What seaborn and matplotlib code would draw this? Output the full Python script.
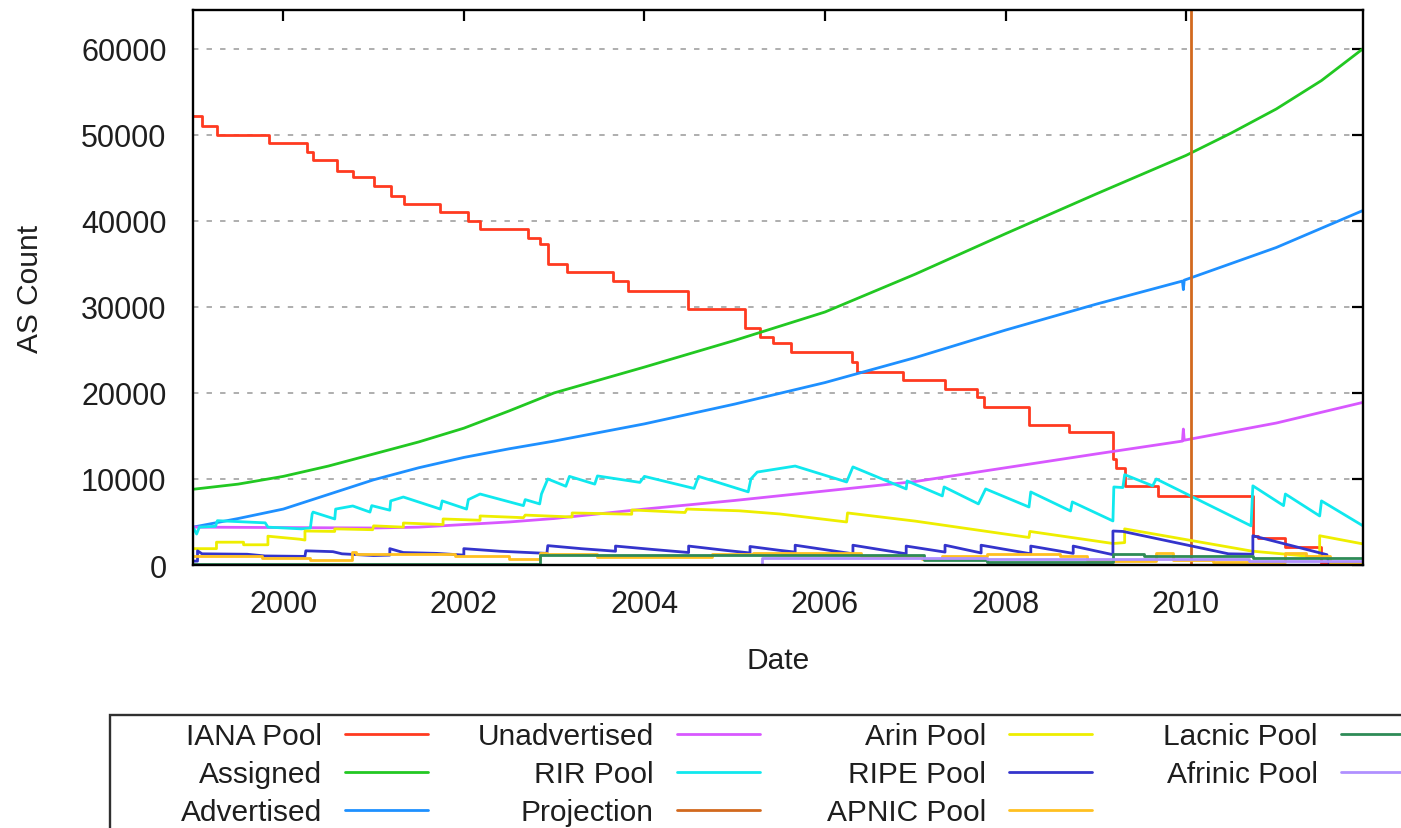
import matplotlib
matplotlib.use("Agg")
import matplotlib.pyplot as plt
import seaborn as sns
from matplotlib.patches import Rectangle

# ---------------- data (decimal years, AS counts) ----------------
iana_years = [1999.00, 1999.10, 1999.27, 1999.84, 2000.26, 2000.33, 2000.60, 2000.77, 2001.00, 2001.19,
              2001.34, 2001.74, 2002.05, 2002.18, 2002.71, 2002.84, 2002.93, 2003.14, 2003.65, 2003.82,
              2004.48, 2005.12, 2005.28, 2005.42, 2005.62, 2006.30, 2006.36, 2006.86, 2007.33, 2007.68,
              2007.76, 2008.26, 2008.70, 2009.19, 2009.22, 2009.32, 2009.69, 2010.74, 2010.80, 2011.10,
              2011.50, 2011.96]
iana_values = [52200, 51060, 50000, 49080, 48030, 47100, 45800, 45100, 44100, 42900,
               42000, 41000, 40000, 39000, 38000, 37300, 35000, 34000, 33000, 31900,
               29700, 27500, 26500, 25800, 24700, 23600, 22400, 21500, 20500, 19500,
               18400, 16300, 15500, 12300, 11300, 9200, 8000, 3400, 3100, 2100,
               200, 200]

assigned_years = [1999.0, 1999.5, 2000.0, 2000.5, 2001.0, 2001.5, 2002.0, 2002.5, 2003.0, 2004.0,
                  2005.0, 2006.0, 2007.0, 2008.0, 2009.0, 2010.0, 2010.5, 2011.0, 2011.5, 2011.96]
assigned_values = [8800, 9400, 10300, 11500, 12900, 14300, 15900, 17900, 20000, 23000,
                   26100, 29400, 33800, 38500, 43100, 47600, 50200, 53000, 56300, 60000]

advertised_years = [1999.0, 1999.5, 2000.0, 2000.5, 2001.0, 2001.5, 2002.0, 2002.5, 2003.0, 2004.0,
                    2005.0, 2006.0, 2007.0, 2008.0, 2009.0, 2009.96, 2009.97, 2009.98, 2011.0, 2011.96]
advertised_values = [4400, 5400, 6500, 8200, 9900, 11300, 12500, 13500, 14400, 16400,
                     18700, 21200, 24100, 27300, 30300, 33000, 32000, 33100, 36900, 41200]

unadvertised_years = [1999.0, 2000.0, 2001.0, 2001.5, 2002.0, 2002.5, 2003.0, 2003.5, 2004.0, 2005.0,
                      2006.0, 2007.0, 2008.0, 2009.0, 2009.96, 2009.97, 2009.98, 2011.0, 2011.96]
unadvertised_values = [4400, 4350, 4300, 4400, 4700, 5000, 5400, 5950, 6500, 7500,
                       8600, 9700, 11300, 12900, 14400, 15800, 14500, 16500, 18900]

rir_years = [1999.00, 1999.04, 1999.07, 1999.25, 1999.27, 1999.80, 1999.83, 2000.20, 2000.30, 2000.32,
             2000.33, 2000.57, 2000.58, 2000.77, 2000.96, 2000.98, 2001.18, 2001.19, 2001.33, 2001.74,
             2001.76, 2002.03, 2002.05, 2002.18, 2002.66, 2002.68, 2002.84, 2002.86, 2002.93, 2003.13,
             2003.17, 2003.45, 2003.48, 2003.95, 2004.00, 2004.55, 2004.60, 2005.15, 2005.18, 2005.25,
             2005.67, 2006.24, 2006.31, 2006.90, 2006.91, 2007.30, 2007.32, 2007.70, 2007.78, 2008.26,
             2008.28, 2008.72, 2008.74, 2009.19, 2009.20, 2009.30, 2009.32, 2009.63, 2009.67, 2010.72,
             2010.74, 2011.08, 2011.10, 2011.48, 2011.50, 2011.96]
rir_values = [4400, 3600, 4400, 4500, 5150, 4900, 4400, 4200, 4300, 5930,
              6150, 5350, 6500, 6860, 6150, 6900, 6370, 7450, 7900, 6500,
              7450, 6500, 7600, 8250, 6900, 7600, 7100, 8250, 10000, 9150,
              10300, 9400, 10350, 9600, 10300, 8900, 10300, 8500, 10000, 10800,
              11500, 9650, 11400, 8840, 9770, 8030, 9070, 7100, 8840, 6740,
              8490, 6280, 7330, 5120, 9070, 9000, 10500, 9200, 10000, 4550,
              9200, 6900, 8250, 5700, 7450, 4550]

projection_year = 2010.06

arin_years = [1999.00, 1999.26, 1999.26, 1999.56, 1999.56, 1999.83, 1999.83, 2000.18, 2000.24, 2000.24,
              2000.57, 2000.57, 2000.99, 2001.00, 2001.33, 2001.33, 2001.77, 2001.77, 2002.18, 2002.18,
              2002.66, 2002.68, 2003.20, 2003.20, 2003.86, 2003.86, 2004.45, 2004.47, 2005.05, 2005.50,
              2006.24, 2006.25, 2007.00, 2008.26, 2008.27, 2009.19, 2009.32, 2009.32, 2010.72, 2010.74,
              2011.48, 2011.48, 2011.96]
arin_values = [1900, 1900, 2650, 2650, 2350, 2350, 3350, 3000, 2900, 3950,
               3900, 4200, 4100, 4550, 4400, 4880, 4700, 5350, 5200, 5700,
               5500, 5800, 5580, 6050, 5900, 6400, 6100, 6500, 6300, 5930,
               5000, 6050, 5100, 3200, 3900, 2500, 2600, 4200, 1630, 1600,
               900, 3400, 2450]

ripe_years = [1999.00, 1999.05, 1999.05, 1999.10, 1999.60, 1999.80, 2000.24, 2000.25, 2000.55, 2000.65,
              2001.00, 2001.18, 2001.18, 2001.33, 2001.70, 2002.00, 2002.00, 2002.40, 2002.92, 2002.93,
              2003.30, 2003.68, 2003.68, 2004.10, 2004.49, 2004.49, 2004.90, 2005.17, 2005.17, 2005.50,
              2005.67, 2005.67, 2006.31, 2006.31, 2006.90, 2006.90, 2007.33, 2007.33, 2007.73, 2007.73,
              2008.28, 2008.28, 2008.75, 2008.75, 2009.19, 2009.19, 2009.30, 2010.47, 2010.74, 2010.74,
              2011.56, 2011.58, 2011.96]
ripe_values = [450, 450, 1650, 1300, 1250, 1050, 1000, 1650, 1550, 1300,
               1100, 1150, 1900, 1450, 1350, 1150, 1900, 1600, 1350, 2250,
               1900, 1600, 2200, 1800, 1450, 2200, 1700, 1400, 2150, 1700,
               1500, 2300, 1300, 2300, 1300, 2200, 1500, 2300, 1400, 2300,
               1300, 2200, 1350, 2200, 1200, 3950, 3900, 1300, 1250, 3400,
               1200, 300, 300]

apnic_years = [1999.00, 1999.76, 2000.30, 2000.76, 2000.80, 2001.90, 2002.50, 2002.84, 2002.92, 2003.47,
               2004.75, 2005.20, 2006.40, 2007.07, 2007.30, 2007.80, 2008.60, 2008.90, 2009.19, 2009.67,
               2009.85, 2010.30, 2011.10, 2011.33, 2011.60, 2011.96]
apnic_values = [1050, 800, 550, 1500, 1280, 1050, 700, 1400, 1280, 930,
                1280, 1400, 1100, 650, 1100, 1300, 1000, 550, 450, 1400,
                600, 400, 1400, 1050, 200, 200]

lacnic_years = [1999.00, 2002.84, 2007.10, 2007.80, 2009.19, 2009.53, 2010.74, 2011.96]
lacnic_values = [60, 1160, 580, 350, 1280, 1100, 810, 810]

afrinic_years = [1999.00, 2005.30, 2007.80, 2010.70, 2011.96]
afrinic_values = [0, 800, 700, 500, 500]

x_ticks = [2000, 2002, 2004, 2006, 2008, 2010]
y_ticks = [0, 10000, 20000, 30000, 40000, 50000, 60000]

# ---------------- style ----------------
sns.set_style("white")
plt.rcParams["font.family"] = ["Liberation Sans", "DejaVu Sans"]
FS_TICK = 22
FS_LAB = 21.5
FS_LEG = 21.5
TXT = "#1e1e1e"

fig = plt.figure(figsize=(14.01, 8.29), dpi=100)
W, H = 1401, 829
ax = fig.add_axes([193 / W, (H - 566) / H, 1170 / W, 555 / H])

LW = 2.0
series = [
    ("IANA Pool", iana_years, iana_values, "#ff3a20", "steps-post"),
    ("Assigned", assigned_years, assigned_values, "#22c822", "default"),
    ("Advertised", advertised_years, advertised_values, "#1e90ff", "default"),
    ("Unadvertised", unadvertised_years, unadvertised_values, "#d858ff", "default"),
    ("RIR Pool", rir_years, rir_values, "#10e8ee", "default"),
    ("Projection", None, None, "#d2691e", None),
    ("Arin Pool", arin_years, arin_values, "#eeee00", "default"),
    ("RIPE Pool", ripe_years, ripe_values, "#3434cc", "default"),
    ("APNIC Pool", apnic_years, apnic_values, "#ffc020", "steps-post"),
    ("Lacnic Pool", lacnic_years, lacnic_values, "#2e8b57", "steps-post"),
    ("Afrinic Pool", afrinic_years, afrinic_values, "#b090ff", "steps-post"),
]

handles = {}
for label, xs, ys, color, ds in series:
    if xs is None:
        ln = ax.axvline(projection_year, color=color, lw=LW)
    else:
        sns.lineplot(x=xs, y=ys, ax=ax, color=color, lw=LW, estimator=None,
                     sort=False, drawstyle=ds, legend=False)
        ln = ax.lines[-1]
    ln.set_label(label)
    handles[label] = ln

ax.set_xlim(1999.0, 2011.96)
ax.set_ylim(0, 64500)
ax.set_xticks(x_ticks)
ax.set_xticklabels([str(t) for t in x_ticks])
ax.set_yticks(y_ticks)
ax.set_yticklabels([str(t) for t in y_ticks])

ax.grid(False)
ax.yaxis.grid(True, color="#a8a8a8", linestyle=(0, (3, 4.5)), lw=1.3)
ax.set_axisbelow(True)

for s in ax.spines.values():
    s.set_visible(True)
    s.set_color("black")
    s.set_linewidth(1.7)

ax.tick_params(axis="both", direction="in", length=8, width=1.6, colors="black",
               top=True, right=True, labelsize=FS_TICK)
ax.tick_params(axis="x", pad=17)
ax.tick_params(axis="y", pad=19)
for lab in ax.get_xticklabels() + ax.get_yticklabels():
    lab.set_color(TXT)

ax.set_xlabel("Date", fontsize=FS_LAB, color=TXT)
ax.set_ylabel("AS Count", fontsize=FS_LAB, color=TXT)
ax.xaxis.label.set_va("center")
ax.yaxis.label.set_va("center")
ax.xaxis.set_label_coords(0.5, (566 - 661) / 555)
ax.yaxis.set_label_coords((30 - 193) / 1170, 0.5)

# ---------------- legend (gnuplot style: text right-aligned, sample after) ----------------
columns = [["IANA Pool", "Assigned", "Advertised"],
           ["Unadvertised", "RIR Pool", "Projection"],
           ["Arin Pool", "RIPE Pool", "APNIC Pool"],
           ["Lacnic Pool", "Afrinic Pool"]]
col_right = [428, 760, 1092, 1424]
for col, xr in zip(columns, col_right):
    fig.legend([handles[l] for l in col], col, loc="upper right",
               bbox_to_anchor=(xr / W, 1 - 723 / H), frameon=False, markerfirst=False,
               borderpad=0, borderaxespad=0, handlelength=2.78, handletextpad=0.77,
               labelspacing=0.34, fontsize=FS_LEG, labelcolor=TXT)

fig.patches.append(Rectangle((110 / W, -0.05), 1.0, (829 - 716) / H + 0.05,
                             transform=fig.transFigure, fill=False, ec="#303030", lw=1.7))

fig.savefig("out.png", dpi=100)
